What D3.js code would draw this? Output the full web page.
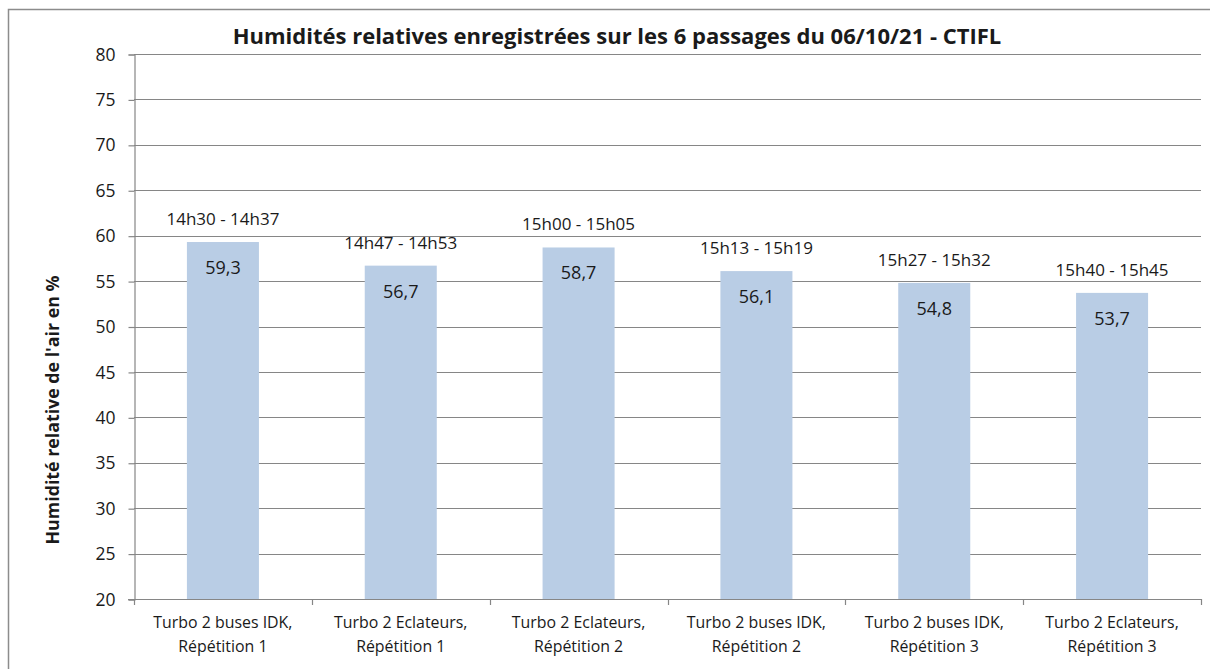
<!DOCTYPE html>
<html>
<head>
<meta charset="utf-8">
<script src="https://cdn.jsdelivr.net/npm/d3@7"></script>
<style>
  body { margin: 0; background: #fff; }
  text { font-family: "Open Sans", "Noto Sans", sans-serif; fill: #1a1a1a; }
  .title { font-weight: bold; font-size: 22px; }
  .ylabel { font-weight: bold; font-size: 17.8px; }
  .tick text { font-size: 17.5px; }
  .xcat { font-size: 15.9px; }
  .time { font-size: 17px; }
  .value { font-size: 18px; }
</style>
</head>
<body>
<svg width="1210" height="669"></svg>
<script>
// categories and values
const categories = [
  'Turbo 2 buses IDK,|Répétition 1',
  'Turbo 2 Eclateurs,|Répétition 1',
  'Turbo 2 Eclateurs,|Répétition 2',
  'Turbo 2 buses IDK,|Répétition 2',
  'Turbo 2 buses IDK,|Répétition 3',
  'Turbo 2 Eclateurs,|Répétition 3'
];
const values = [59.3, 56.7, 58.7, 56.1, 54.8, 53.7];
const timeLabels = ['14h30 - 14h37', '14h47 - 14h53', '15h00 - 15h05', '15h13 - 15h19', '15h27 - 15h32', '15h40 - 15h45'];
const yTicks = [20, 25, 30, 35, 40, 45, 50, 55, 60, 65, 70, 75, 80];

const svg = d3.select('svg');

// outer frame
svg.append('rect')
  .attr('x', 8.5).attr('y', 9.5)
  .attr('width', 1215).attr('height', 680)
  .attr('fill', 'none')
  .attr('stroke', '#8c8c8c')
  .attr('stroke-width', 1.5);

const plotLeft = 134, plotRight = 1201, plotTop = 54, plotBottom = 599;

const x = d3.scaleBand()
  .domain(categories)
  .range([plotLeft, plotRight])
  .paddingInner(0.595)
  .paddingOuter(0.2975);

const xb = d3.scaleBand()
  .domain(categories)
  .range([plotLeft, plotRight]);

const y = d3.scaleLinear()
  .domain([20, 80])
  .range([plotBottom, plotTop]);

// grid lines
svg.append('g')
  .selectAll('line')
  .data(yTicks.slice(1))
  .enter()
  .append('line')
  .attr('x1', plotLeft).attr('x2', plotRight)
  .attr('y1', (d) => Math.round(y(d)) + 0.5)
  .attr('y2', (d) => Math.round(y(d)) + 0.5)
  .attr('stroke', '#868686')
  .attr('stroke-width', 1.2);

// bars
svg.append('g')
  .selectAll('rect')
  .data(values)
  .enter()
  .append('rect')
  .attr('x', (d, i) => x(categories[i]))
  .attr('y', (d) => y(d))
  .attr('width', x.bandwidth())
  .attr('height', (d) => plotBottom - y(d))
  .attr('fill', '#b9cde5');

// y axis
const yAxis = svg.append('g')
  .attr('transform', `translate(${plotLeft + 0.5}, 0.5)`)
  .call(d3.axisLeft(y).tickValues(yTicks).tickSize(6).tickPadding(13));
yAxis.selectAll('line, path').attr('stroke', '#868686').attr('stroke-width', 1.2);
yAxis.attr('font-family', null).attr('font-size', null);

// x axis: ticks at category boundaries
const bounds = categories.map((c) => xb(c)).concat([plotRight]);
svg.append('line')
  .attr('x1', plotLeft - 6).attr('x2', plotRight)
  .attr('y1', plotBottom + 0.5).attr('y2', plotBottom + 0.5)
  .attr('stroke', '#868686').attr('stroke-width', 1.2);
svg.append('g')
  .selectAll('line')
  .data(bounds)
  .enter()
  .append('line')
  .attr('x1', (d) => Math.round(d) + 0.5)
  .attr('x2', (d) => Math.round(d) + 0.5)
  .attr('y1', plotBottom).attr('y2', plotBottom + 6)
  .attr('stroke', '#868686').attr('stroke-width', 1.2);

// category labels
const cat = svg.append('g')
  .selectAll('text')
  .data(categories)
  .enter()
  .append('text')
  .attr('class', 'xcat')
  .attr('text-anchor', 'middle')
  .attr('x', (d) => xb(d) + xb.bandwidth() / 2)
  .attr('y', 628);
cat.append('tspan')
  .attr('x', (d) => xb(d) + xb.bandwidth() / 2)
  .text((d) => d.split('|')[0]);
cat.append('tspan')
  .attr('x', (d) => xb(d) + xb.bandwidth() / 2)
  .attr('dy', 24)
  .text((d) => d.split('|')[1]);

// time labels above bars
svg.append('g')
  .selectAll('text')
  .data(values)
  .enter()
  .append('text')
  .attr('class', 'time')
  .attr('text-anchor', 'middle')
  .attr('x', (d, i) => x(categories[i]) + x.bandwidth() / 2)
  .attr('y', (d) => y(d) - 17)
  .text((d, i) => timeLabels[i]);

// values inside bars
svg.append('g')
  .selectAll('text')
  .data(values)
  .enter()
  .append('text')
  .attr('class', 'value')
  .attr('text-anchor', 'middle')
  .attr('x', (d, i) => x(categories[i]) + x.bandwidth() / 2)
  .attr('y', (d) => y(d) + 32)
  .text((d) => d.toFixed(1).replace('.', ','));

// title
svg.append('text')
  .attr('class', 'title')
  .attr('x', 617)
  .attr('y', 44)
  .attr('text-anchor', 'middle')
  .text('Humidités relatives enregistrées sur les 6 passages du 06/10/21 - CTIFL');

// y label
svg.append('text')
  .attr('class', 'ylabel')
  .attr('transform', 'translate(59, 410) rotate(-90)')
  .attr('text-anchor', 'middle')
  .text("Humidité relative de l'air en %");
</script>
</body>
</html>
